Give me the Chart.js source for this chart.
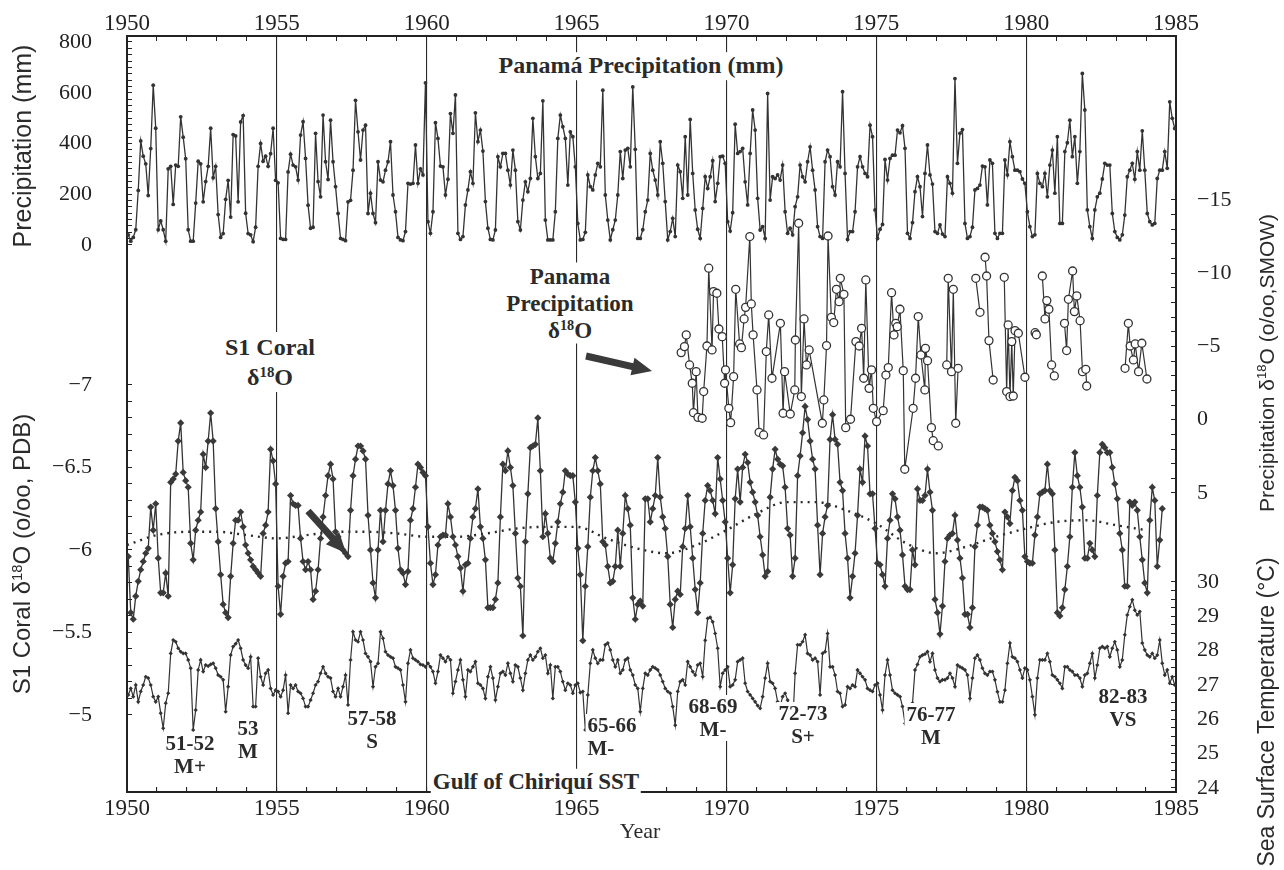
<!DOCTYPE html>
<html>
<head>
<meta charset="utf-8">
<script src="https://cdn.jsdelivr.net/npm/chart.js@4.4.1/dist/chart.umd.min.js"></script>
<style>
  html, body { margin: 0; padding: 0; background: #fff; }
  #wrap { position: relative; width: 1284px; height: 870px; overflow: hidden; }
  canvas { position: absolute; left: 0; top: 0; }
  .ann { position: absolute; transform: translate(-50%, -50%); font-family: "Liberation Serif", "Times New Roman", serif;
         font-weight: bold; color: #2b2b2b; background: #fff; white-space: nowrap; text-align: center; line-height: 1.15; padding: 0 2px; }
  .ev { font-size: 21px; line-height: 23px; }
  .big { font-size: 24px; }
  .ttl { position: absolute; transform: translate(-50%, -50%) rotate(-90deg); font-family: "Liberation Sans", Arial, sans-serif;
         color: #2b2b2b; white-space: nowrap; line-height: 1; }
  .yr { position: absolute; transform: translate(-50%, -50%); font-family: "Liberation Serif", serif; font-size: 22px; color: #2b2b2b; }
  sup { font-size: 0.62em; vertical-align: 0.55em; line-height: 0; }
</style>
</head>
<body>
<div id="wrap">
  <canvas id="chart" width="1284" height="870"></canvas>

  <div class="ann big" style="left:641px; top:66px;">Panamá Precipitation (mm)</div>
  <div class="ann big" style="left:270px; top:362px; line-height:30px;">S1 Coral<br>δ<sup>18</sup>O</div>
  <div class="ann" style="left:570px; top:303px; font-size:23px; line-height:27px;">Panama<br>Precipitation<br>δ<sup>18</sup>O</div>
  <div class="ann" style="left:536px; top:782px; font-size:23px;">Gulf of Chiriquí SST</div>

  <div class="ann ev" style="left:190px; top:755px;">51-52<br>M+</div>
  <div class="ann ev" style="left:248px; top:740px;">53<br>M</div>
  <div class="ann ev" style="left:372px; top:730px;">57-58<br>S</div>
  <div class="ann ev" style="left:612px; top:737px; text-align:left;">65-66<br>M-</div>
  <div class="ann ev" style="left:713px; top:718px;">68-69<br>M-</div>
  <div class="ann ev" style="left:803px; top:725px;">72-73<br>S+</div>
  <div class="ann ev" style="left:931px; top:726px;">76-77<br>M</div>
  <div class="ann ev" style="left:1123px; top:708px;">82-83<br>VS</div>

  <div class="yr" style="left:640px; top:831px;">Year</div>

  <div class="ttl" style="left:22px; top:146px; font-size:25px;">Precipitation (mm)</div>
  <div class="ttl" style="left:22px; top:554px; font-size:24px;">S1 Coral δ<sup>18</sup>O (o/oo, PDB)</div>
  <div class="ttl" style="left:1266px; top:363px; font-size:21px;">Precipitation δ<sup>18</sup>O (o/oo,SMOW)</div>
  <div class="ttl" style="left:1266px; top:712px; font-size:23px;">Sea Surface Temperature (°C)</div>
</div>

<script>
// monthly series start in January 1950
const startYear = 1950;

// Panama precipitation, mm per month
const precipMm = [
  40, 15, 30, 60, 215, 410, 350, 320, 195, 380, 630, 460,
  60, 95, 60, 15, 300, 310, 160, 315, 310, 505, 425, 340,
  60, 15, 15, 165, 330, 320, 170, 250, 310, 460, 265, 310,
  120, 30, 45, 180, 255, 110, 435, 430, 170, 485, 510, 125,
  45, 40, 13, 70, 310, 400, 330, 350, 310, 360, 460, 255,
  245, 26, 22, 22, 288, 358, 315, 308, 256, 433, 486, 341,
  157, 66, 70, 440, 250, 190, 512, 328, 258, 492, 328, 230,
  124, 26, 22, 17, 170, 176, 295, 570, 446, 335, 453, 472,
  124, 204, 124, 88, 328, 256, 249, 295, 328, 407, 197, 131,
  30, 20, 17, 53, 243, 240, 243, 394, 243, 300, 276, 639,
  92, 46, 131, 482, 420, 311, 308, 197, 259, 518, 440, 591,
  46, 22, 33, 158, 217, 289, 243, 521, 407, 453, 370, 171,
  66, 22, 20, 59, 348, 308, 361, 361, 295, 236, 374, 295,
  92, 59, 177, 249, 210, 262, 499, 348, 262, 282, 568, 98,
  20, 20, 20, 131, 420, 512, 466, 420, 236, 446, 427, 308,
  85, 20, 22, 50, 276, 230, 217, 276, 322, 308, 610, 197,
  98, 20, 60, 98, 197, 368, 262, 374, 381, 308, 623, 377,
  26, 26, 60, 131, 177, 361, 295, 256, 197, 407, 322, 171,
  20, 53, 105, 33, 315, 289, 184, 427, 197, 495, 282, 138,
  62, 26, 144, 269, 223, 269, 332, 171, 243, 348, 350, 322,
  92, 55, 127, 476, 361, 368, 381, 249, 158, 361, 532, 453,
  184, 59, 72, 26, 597, 177, 269, 262, 276, 256, 315, 131,
  46, 66, 40, 151, 190, 315, 269, 249, 328, 387, 295, 217,
  72, 33, 26, 328, 374, 348, 230, 197, 328, 308, 604, 282,
  22, 53, 53, 131, 308, 348, 308, 282, 269, 472, 427, 138,
  26, 62, 81, 337, 256, 341, 354, 354, 453, 442, 470, 381,
  46, 26, 88, 210, 269, 230, 112, 282, 394, 276, 240, 53,
  46, 79, 43, 33, 269, 243, 204, 656, 322, 440, 455, 85,
  26, 33, 70, 217, 223, 236, 311, 308, 158, 335, 322, 46,
  26, 46, 46, 335, 276, 407, 348, 295, 295, 289, 260, 243,
  131, 72, 33, 40, 282, 243, 230, 282, 190, 315, 374, 204,
  427, 85, 85, 368, 403, 492, 348, 427, 243, 368, 676, 532,
  138, 72, 26, 138, 190, 204, 260, 322, 315, 315, 124, 53,
  30, 20, 40, 118, 269, 295, 322, 259, 368, 295, 450, 295,
  124, 92, 79, 85, 262, 295, 295, 368, 302, 564, 499, 459
];

// S1 coral d18O, o/oo PDB (ends mid 1984)
const coralD18O = [
  -5.96, -5.62, -5.58, -5.72, -5.81, -5.88, -5.93, -5.98, -6.01, -6.26, -6.12, -6.28,
  -5.95, -5.74, -5.74, -5.86, -5.72, -6.41, -6.43, -6.46, -6.66, -6.77, -6.47, -6.42,
  -6.38, -6.04, -5.94, -6.12, -6.18, -6.23, -6.58, -6.50, -6.66, -6.83, -6.66, -6.25,
  -6.05, -5.85, -5.67, -5.62, -5.59, -5.84, -6.04, -6.18, -6.18, -6.23, -6.14, -6.03,
  -5.98, -5.94, -5.90, -5.88, -5.86, -5.84, -6.10, -6.15, -6.23, -6.61, -6.54, -6.40,
  -5.78, -5.61, -5.84, -5.92, -5.93, -6.33, -6.28, -6.27, -6.27, -6.07, -5.93, -5.88,
  -5.93, -5.88, -5.70, -5.75, -5.88, -6.07, -6.20, -6.33, -6.45, -6.52, -6.43, -6.11,
  -6.08, -6.02, -6.00, -5.98, -5.96, -6.24, -6.45, -6.55, -6.63, -6.63, -6.60, -6.55,
  -6.21, -6.00, -5.80, -5.71, -6.00, -6.24, -6.05, -6.24, -6.40, -6.48, -6.39, -6.24,
  -6.01, -5.88, -5.86, -5.79, -5.87, -6.18, -6.25, -6.38, -6.52, -6.50, -6.47, -6.45,
  -6.14, -5.92, -5.79, -5.85, -6.03, -6.08, -6.09, -6.09, -6.28, -6.20, -6.08, -6.03,
  -5.96, -5.89, -5.75, -5.91, -5.92, -6.07, -6.20, -6.25, -6.37, -6.14, -6.07, -5.94,
  -5.65, -5.65, -5.65, -5.70, -5.80, -6.20, -6.52, -6.48, -6.60, -6.50, -6.39, -6.10,
  -5.83, -5.78, -5.48, -6.05, -6.34, -6.62, -6.63, -6.64, -6.80, -6.48, -6.08, -6.22,
  -6.10, -5.95, -5.93, -6.04, -6.17, -6.28, -6.35, -6.48, -6.46, -6.45, -6.45, -6.29,
  -6.01, -5.85, -5.45, -5.78, -6.02, -6.32, -6.48, -6.56, -6.48, -6.40, -6.05, -6.03,
  -5.90, -5.80, -5.81, -5.90, -6.12, -5.90, -6.10, -6.33, -6.25, -6.15, -5.71, -5.58,
  -5.67, -5.69, -5.66, -6.31, -6.31, -6.17, -6.25, -6.33, -6.56, -6.32, -6.20, -6.13,
  -5.96, -5.67, -5.53, -5.70, -5.75, -5.73, -6.02, -6.13, -6.33, -6.14, -5.95, -5.76,
  -5.62, -5.80, -6.10, -6.30, -6.39, -6.36, -6.30, -6.22, -6.56, -6.43, -6.30, -6.17,
  -5.95, -5.74, -5.91, -6.31, -6.49, -6.29, -6.50, -6.58, -6.53, -6.41, -6.35, -6.29,
  -6.21, -6.08, -5.97, -5.84, -5.87, -6.32, -6.49, -6.61, -6.55, -6.52, -6.51, -6.38,
  -6.13, -6.09, -5.84, -5.95, -6.45, -6.57, -6.71, -6.87, -6.79, -6.66, -6.55, -6.49,
  -6.15, -5.85, -6.10, -6.20, -6.27, -6.67, -6.82, -6.67, -6.64, -6.41, -6.36, -6.10,
  -5.95, -5.71, -5.84, -5.98, -6.21, -6.49, -6.41, -6.69, -6.63, -6.34, -6.34, -6.13,
  -5.92, -5.91, -5.85, -5.78, -6.07, -6.18, -6.34, -6.31, -6.20, -6.12, -5.97, -5.78,
  -5.76, -5.76, -6.00, -5.91, -6.37, -6.30, -6.30, -6.33, -6.49, -6.35, -6.24, -5.70,
  -5.62, -5.49, -5.66, -5.93, -6.07, -6.09, -6.10, -6.21, -6.06, -5.95, -5.83, -5.61,
  -5.61, -5.53, -5.65, -6.02, -6.15, -6.26, -6.26, -6.25, -6.24, -6.15, -6.10, -6.05,
  -5.99, -5.94, -5.88, -6.23, -6.20, -6.16, -6.36, -6.44, -6.42, -6.30, -6.24, -5.96,
  -5.93, -5.92, -5.92, -6.09, -6.20, -6.34, -6.35, -6.36, -6.52, -6.36, -6.34, -6.00,
  -5.62, -5.60, -5.65, -5.76, -5.90, -6.08, -6.38, -6.59, -6.45, -6.38, -6.26, -5.95,
  -5.95, -6.04, -6.00, -5.96, -6.33, -6.59, -6.64, -6.62, -6.59, -6.59, -6.50, -6.40,
  -6.31, -6.10, -6.00, -5.78, -5.78, -6.29, -6.27, -6.29, -6.24, -6.08, -5.94, -5.80,
  -5.74, -6.18, -6.38, -6.30, -5.90, -6.06, -6.25
];

// Gulf of Chiriqui sea surface temperature, deg C
const sstC = [
  26.71, 26.9, 26.66, 27.0, 26.51, 26.81, 27.0, 27.24, 27.2, 27.0, 26.66, 26.51,
  26.66, 26.18, 25.74, 26.47, 26.76, 27.92, 28.31, 28.26, 28.07, 27.97, 27.92, 27.92,
  27.73, 27.49, 25.69, 26.27, 27.44, 27.73, 27.39, 27.58, 27.55, 27.6, 27.63, 27.49,
  27.29, 27.24, 27.15, 26.22, 26.95, 27.87, 28.12, 28.2, 28.31, 28.07, 27.73, 27.58,
  27.49, 27.82, 26.37, 26.37, 27.78, 27.24, 27.0, 27.34, 27.44, 26.9, 26.71, 26.85,
  26.81, 26.66, 26.85, 27.29, 26.18, 27.0, 26.9, 27.0, 26.81, 26.76, 26.61, 26.37,
  26.37, 26.56, 26.76, 27.0, 27.1, 27.34, 27.53, 27.34, 27.24, 27.2, 26.81, 26.66,
  26.9, 26.66, 26.95, 27.29, 26.42, 27.73, 28.55, 28.31, 28.26, 28.55, 28.31, 27.92,
  27.82, 27.68, 26.95, 27.53, 27.63, 28.55, 28.36, 27.97, 27.87, 27.82, 27.78, 27.53,
  27.49, 27.44, 27.0, 26.51, 27.63, 28.02, 27.78, 27.73, 27.68, 27.6, 27.58, 27.53,
  27.63, 27.53, 27.39, 27.05, 27.39, 27.87, 27.78, 27.68, 27.82, 27.73, 26.76, 27.1,
  27.44, 27.73, 27.15, 26.66, 27.44, 27.39, 27.53, 27.68, 27.05, 27.0, 26.9, 26.61,
  27.24, 27.53, 27.2, 26.56, 26.95, 27.34, 27.39, 27.29, 27.63, 27.34, 27.1, 27.58,
  27.53, 27.2, 26.85, 27.34, 27.73, 27.87, 27.73, 27.82, 27.97, 28.07, 27.78, 27.87,
  27.34, 27.58, 26.61, 27.53, 27.53, 27.39, 27.1, 26.85, 27.05, 27.0, 26.76, 27.0,
  27.05, 26.78, 26.81, 25.69, 26.71, 27.63, 28.02, 27.78, 27.63, 27.73, 27.73, 28.17,
  28.22, 28.02, 27.73, 27.53, 27.73, 27.34, 27.44, 27.73, 27.78, 27.44, 27.29, 27.0,
  26.9, 26.22, 26.9, 27.34, 27.29, 27.44, 27.53, 27.49, 27.44, 27.29, 27.1, 26.9,
  26.81, 26.76, 26.37, 25.83, 26.81, 27.1, 27.15, 27.0, 27.68, 27.53, 27.39, 27.29,
  27.58, 27.63, 27.24, 28.3, 28.94, 28.97, 28.84, 28.5, 28.07, 26.95, 27.34, 27.44,
  27.53, 26.95, 27.0, 27.15, 27.68, 27.73, 27.78, 27.05, 26.81, 26.71, 26.61, 26.51,
  26.4, 26.32, 26.66, 27.2, 27.63, 27.1, 27.05, 26.9, 26.51, 26.37, 26.66, 26.76,
  26.56, 26.37, 25.79, 27.34, 28.17, 28.17, 28.26, 28.46, 27.92, 27.87, 27.73, 27.78,
  27.68, 26.71, 27.92, 27.97, 28.5, 27.53, 27.53, 27.29, 26.81, 26.76, 26.37, 26.42,
  26.95, 26.9, 27.0, 26.95, 27.44, 27.34, 27.24, 27.15, 26.9, 26.85, 26.81, 27.0,
  27.05, 26.71, 26.27, 27.29, 27.73, 27.29, 26.85, 26.76, 26.71, 26.66, 26.37, 25.88,
  26.18, 25.25, 26.47, 27.44, 27.6, 27.82, 27.87, 27.9, 27.97, 27.68, 27.92, 27.44,
  27.2, 27.1, 27.15, 27.15, 27.2, 27.34, 27.2, 26.95, 27.58, 27.53, 27.49, 27.44,
  27.29, 26.61, 27.2, 27.78, 27.87, 27.73, 27.49, 27.34, 27.29, 27.39, 27.39, 27.15,
  26.8, 26.51, 26.51, 26.85, 27.63, 28.22, 27.82, 27.78, 27.68, 27.44, 27.2, 27.49,
  27.44, 27.15, 26.66, 26.13, 27.2, 27.73, 27.73, 27.73, 27.92, 27.68, 27.29, 27.24,
  27.15, 27.05, 26.9, 27.53, 27.53, 27.44, 27.39, 27.29, 27.29, 27.2, 26.95, 27.29,
  27.34, 27.63, 27.92, 27.2, 27.58, 28.07, 28.12, 28.07, 28.12, 27.82, 28.07, 28.26,
  28.02, 27.53, 27.73, 28.46, 29.04, 29.28, 29.48, 29.18, 29.04, 29.14, 28.22, 28.02,
  27.87, 27.82, 27.92, 27.78, 27.87, 28.31, 27.63, 27.29, 27.44, 27.05, 27.24, 27.0
];

// Panama precipitation d18O (o/oo SMOW), sample dates and values; null = gap in record
const isoYears = [
  1968.49, 1968.60, 1968.66, 1968.77, 1968.86, 1968.90, 1968.99, 1969.05, 1969.19, 1969.24,
  1969.35, 1969.41, 1969.52, 1969.57, 1969.68, 1969.75, 1969.86, 1969.94, 1969.97, 1970.08,
  1970.14, 1970.24, 1970.31, 1970.44, 1970.50, 1970.59, 1970.64, 1970.78, 1970.83, 1970.89,
  1971.02, 1971.09, 1971.24, 1971.33, 1971.41, 1971.52, 1971.80, 1971.89, 1971.94, 1972.13,
  1972.28, 1972.30, 1972.41, 1972.50, 1972.59, 1972.67, 1972.76, 1973.20, 1973.25, 1973.34,
  1973.39, 1973.50, 1973.58, 1973.67, 1973.76, 1973.80, 1973.92, 1973.98, 1974.14, 1974.32,
  1974.43, 1974.51, 1974.58, 1974.65, 1974.76, 1974.84, 1974.90, 1975.01, 1975.23, 1975.32,
  1975.40, 1975.51, 1975.59, 1975.65, 1975.70, 1975.79, 1975.90, 1975.95, 1976.23, 1976.31,
  1976.40, 1976.49, 1976.62, 1976.64, 1976.71, 1976.84, 1976.90, 1977.07, 1977.20, 1977.35,
  1977.40, 1977.51, 1977.57, 1977.65, 1977.73, 1978.00, 1978.32, 1978.46, 1978.55, 1978.63,
  1978.68, 1978.76, 1978.90, 1979.10, 1979.27, 1979.35, 1979.40, 1979.46, 1979.52, 1979.57,
  1979.63, 1979.74, 1979.96, 1980.10, 1980.30, 1980.34, 1980.45, 1980.54, 1980.63, 1980.69,
  1980.76, 1980.85, 1980.94, 1981.10, 1981.28, 1981.35, 1981.41, 1981.55, 1981.61, 1981.69,
  1981.80, 1981.88, 1981.99, 1982.02, 1982.60, 1983.30, 1983.41, 1983.47, 1983.58, 1983.64,
  1983.75, 1983.86, 1984.03
];
const isoD18O = [
  -4.58, -4.99, -5.79, -3.74, -2.49, -0.48, -3.28, -0.16, -0.10, -1.92,
  -5.03, -10.34, -4.76, -8.74, -8.63, -6.19, -5.67, -2.49, -3.40, -0.78,
  0.20, -2.94, -8.90, -5.17, -4.92, -6.88, -7.67, -12.50, -7.90, -5.79,
  -2.03, 0.86, 1.04, -4.65, -7.15, -2.83, -6.58, -0.44, -3.28, -0.39,
  -2.03, -5.44, -13.41, -1.58, -6.88, -3.74, -4.76, 0.24, -1.35, -5.06,
  -12.54, -6.99, -6.63, -8.90, -8.06, -9.65, -8.56, 0.54, -0.03, -5.33,
  -5.03, -6.24, -2.83, -9.54, -2.14, -3.40, -0.78, 0.13, -0.62, -3.05,
  -3.56, -8.67, -5.79, -6.58, -6.35, -7.54, -3.35, 3.38, -0.78, -2.83,
  -7.04, -4.42, -2.03, -4.87, -4.03, 0.54, 1.43, 1.79, null, -3.74,
  -9.65, -3.28, -8.90, 0.24, -3.51, null, -9.65, -7.33, null, -11.09,
  -9.81, -5.40, -2.71, null, -9.72, -1.92, -6.47, -1.58, -5.33, -1.62,
  -6.08, -5.90, -2.90, null, -5.94, -5.80, null, -9.81, -6.88, -8.13,
  -7.54, -3.74, -2.99, null, -6.58, -4.72, -8.22, -10.15, -7.38, -8.45,
  -6.76, -3.28, -3.44, -2.30, null, -3.51, -6.58, -5.03, -4.08, -5.17,
  -3.28, -5.22, -2.78
];

// smoothed coral d18O (dotted curve), one value per year
const trendYears = [1950, 1951, 1952, 1953, 1954, 1955, 1956, 1957, 1958, 1959,
  1960, 1961, 1962, 1963, 1964, 1965, 1966, 1967, 1968, 1969,
  1970, 1971, 1972, 1973, 1974, 1975, 1976, 1977, 1978, 1979,
  1980, 1981, 1982, 1983, 1984];
const trendD18O = [-6.03, -6.09, -6.11, -6.11, -6.09, -6.07, -6.09, -6.11, -6.11, -6.10,
  -6.08, -6.08, -6.10, -6.13, -6.14, -6.14, -6.07, -6.01, -5.98, -6.03,
  -6.12, -6.22, -6.29, -6.29, -6.24, -6.16, -6.04, -5.98, -6.02, -6.08,
  -6.13, -6.17, -6.18, -6.15, -6.12];

// tick labels
const yearLabels = [1950, 1955, 1960, 1965, 1970, 1975, 1980, 1985];
const precipLabels = [0, 200, 400, 600, 800];
const coralLabels = [-7, -6.5, -6, -5.5, -5];
const isoLabels = [-15, -10, -5, 0, 5];
const sstLabels = [24, 25, 26, 27, 28, 29, 30];

const ink = '#333';
const serif = '"Liberation Serif", "Times New Roman", serif';

const monthly = arr => arr.map((v, i) => ({ x: startYear + (i + 0.5) / 12, y: v }));
const paired = (xs, ys) => xs.map((x, i) => ({ x: x, y: ys[i] }));

// tick positions (labelled and unlabelled) between two values
function range(a, b, step) {
  const out = [];
  const n = Math.round((b - a) / step);
  for (let k = 0; k <= n; k++) out.push(+(a + k * step).toFixed(4));
  return out;
}
const isLabel = (labels, v) => labels.some(l => Math.abs(l - v) < 1e-6);
const fmt = v => String(v).replace('-', '\u2212');

function axis(position, min, max, ticks, labels, padding, extra) {
  const horiz = position === 'top' || position === 'bottom';
  return Object.assign({
    type: 'linear', position: position, min: min, max: max, bounds: 'data',
    afterBuildTicks: s => { s.ticks = ticks.map(v => ({ value: v })); },
    afterFit: s => {
      // axes take no room: both left (and both right) axes sit on the frame line
      if (horiz) s.height = 0; else s.width = 0;
      s.paddingTop = s.paddingBottom = s.paddingLeft = s.paddingRight = 0;
      s._computeLabelArea = () => undefined;
    },
    ticks: {
      autoSkip: false, maxRotation: 0, padding: padding, color: '#222',
      font: { family: serif, size: horiz ? 23 : 22 },
      callback: v => isLabel(labels, v) ? fmt(v) : ''
    },
    grid: { drawOnChartArea: false, tickLength: -5, tickColor: '#222', tickWidth: 1 },
    border: { color: '#222', width: 2 }
  }, extra || {});
}

const arrows = {
  id: 'arrows',
  afterDraw(chart) {
    const ctx = chart.ctx;
    const arrow = (x1, y1, x2, y2) => {
      const a = Math.atan2(y2 - y1, x2 - x1), L = Math.hypot(x2 - x1, y2 - y1);
      const head = 20, hw = 9, sw = 3.5;
      ctx.save();
      ctx.fillStyle = '#3a3a3a';
      ctx.translate(x1, y1);
      ctx.rotate(a);
      ctx.beginPath();
      ctx.moveTo(0, -sw); ctx.lineTo(L - head, -sw); ctx.lineTo(L - head, -hw);
      ctx.lineTo(L, 0); ctx.lineTo(L - head, hw); ctx.lineTo(L - head, sw); ctx.lineTo(0, sw);
      ctx.closePath();
      ctx.fill();
      ctx.restore();
    };
    arrow(308, 511, 346, 553);
    arrow(586, 356, 652, 371);
  }
};

new Chart(document.getElementById('chart'), {
  type: 'line',
  data: {
    datasets: [
      {
        label: 'Panama Precipitation d18O', data: paired(isoYears, isoD18O), yAxisID: 'yI',
        borderColor: ink, borderWidth: 1.2, pointStyle: 'circle', pointRadius: 4,
        pointBackgroundColor: '#fff', pointBorderColor: ink, pointBorderWidth: 1.3, spanGaps: false
      },
      {
        label: 'Panamá Precipitation (mm)', data: monthly(precipMm), yAxisID: 'yP',
        borderColor: ink, borderWidth: 1.3, pointRadius: 1.9, pointBackgroundColor: ink, pointBorderWidth: 0
      },
      {
        label: 'S1 Coral d18O', data: monthly(coralD18O), yAxisID: 'yC',
        borderColor: ink, borderWidth: 1.3, pointStyle: 'rectRot', pointRadius: 3.6,
        pointBackgroundColor: '#3a3a3a', pointBorderColor: '#3a3a3a', pointBorderWidth: 0
      },
      {
        label: 'smoothed', data: paired(trendYears, trendD18O), yAxisID: 'yC',
        borderColor: '#2a2a2a', borderWidth: 2.4, borderDash: [2, 5], pointRadius: 0,
        tension: 0.4, cubicInterpolationMode: 'monotone'
      },
      {
        label: 'Gulf of Chiriquí SST', data: monthly(sstC), yAxisID: 'yS',
        borderColor: ink, borderWidth: 1.2, pointStyle: 'rectRot', pointRadius: 2.1,
        pointBackgroundColor: ink, pointBorderWidth: 0
      }
    ]
  },
  options: {
    responsive: false, animation: false, devicePixelRatio: 1,
    layout: { padding: { left: 127, right: 108, top: 36, bottom: 78 } },
    plugins: { legend: { display: false }, tooltip: { enabled: false } },
    scales: {
      x: axis('bottom', 1950, 1985, range(1950, 1985, 1), yearLabels, 8, {
        grid: {
          drawOnChartArea: true, tickLength: -5, tickColor: '#222', lineWidth: 1.1,
          color: c => (c.tick && c.tick.value % 5 === 0 && c.tick.value > 1950 && c.tick.value < 1985) ? '#2a2a2a' : 'rgba(0,0,0,0)'
        }
      }),
      x2: axis('top', 1950, 1985, range(1950, 1985, 1), yearLabels, 3),
      yP: axis('left', -2155.7, 823.6, range(0, 800, 25), precipLabels, 40),
      yC: axis('left', -9.115, -4.533, range(-7, -5, 0.1), coralLabels, 40, { reverse: true }),
      yI: axis('right', -26.19, 25.41, range(-15, 5, 1), isoLabels, 26, { reverse: true }),
      yS: axis('right', 23.883, 45.904, range(24, 30, 0.25), sstLabels, 26)
    }
  },
  plugins: [arrows]
});
</script>
</body>
</html>
